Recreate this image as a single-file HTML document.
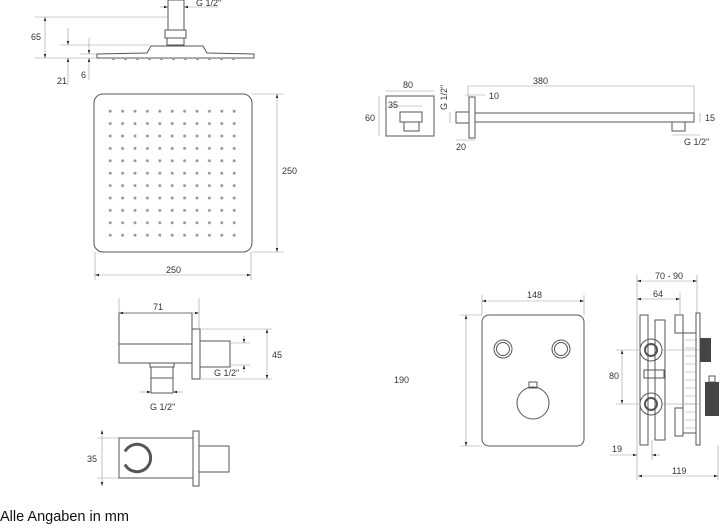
<!DOCTYPE html>
<html><head><meta charset="utf-8"><style>
html,body{margin:0;padding:0;background:#fff;}
svg{display:block;font-family:"Liberation Sans",sans-serif;}
text{font-size:9px;fill:#333;}
.l{stroke:#555;stroke-width:1;fill:none;}
.t{stroke:#999;stroke-width:.6;fill:none;}
</style></head><body>
<svg width="720" height="529" viewBox="0 0 720 529">
<defs>
<marker id="a" viewBox="0 0 10 10" refX="10" refY="5" markerWidth="7" markerHeight="7" orient="auto-start-reverse"><path d="M0,2L10,5L0,8z" fill="#222"/></marker>
<pattern id="dots" x="104" y="105" width="12.4" height="12.4" patternUnits="userSpaceOnUse"><circle cx="6.2" cy="6.2" r="1.5" fill="#999"/></pattern>
</defs>
<!-- top showerhead side -->
<rect class="l" x="168" y="0" width="16" height="30"/>
<rect class="l" x="165" y="30" width="21" height="8"/>
<rect class="l" x="167" y="38" width="17" height="7"/>
<path class="l" d="M97,58 L97,54 L147,53 L151,46 L203,46 L207,53 L254,54 L254,58 Z"/>
<g fill="#999"><rect x="112" y="59" width="3" height="1"/><rect x="124" y="59" width="3" height="1"/><rect x="136" y="59" width="3" height="1"/><rect x="148" y="59" width="3" height="1"/><rect x="160" y="59" width="3" height="1"/><rect x="172" y="59" width="3" height="1"/><rect x="184" y="59" width="3" height="1"/><rect x="196" y="59" width="3" height="1"/><rect x="208" y="59" width="3" height="1"/><rect x="220" y="59" width="3" height="1"/><rect x="232" y="59" width="3" height="1"/></g>
<line class="t" x1="35" y1="17" x2="168" y2="17"/><line class="t" x1="60" y1="45" x2="150" y2="45"/><line class="t" x1="80" y1="54" x2="97" y2="54"/><line class="t" x1="35" y1="58" x2="97" y2="58"/>
<line class="t" x1="45" y1="17" x2="45" y2="58" marker-start="url(#a)" marker-end="url(#a)"/>
<line class="t" x1="68" y1="28" x2="68" y2="45" marker-end="url(#a)"/><line class="t" x1="68" y1="85" x2="68" y2="58" marker-end="url(#a)"/>
<line class="t" x1="89" y1="38" x2="89" y2="54" marker-end="url(#a)"/><line class="t" x1="89" y1="80" x2="89" y2="58" marker-end="url(#a)"/>
<line class="t" x1="160" y1="7" x2="168" y2="7" marker-end="url(#a)"/><line class="t" x1="218" y1="7" x2="184" y2="7" marker-end="url(#a)"/>
<text x="31" y="40">65</text><text x="57" y="84">21</text><text x="81" y="78">6</text><text x="196" y="6">G 1/2"</text>
<!-- square -->
<rect class="l" x="94" y="94" width="158" height="158" rx="9"/>
<rect x="104" y="105" width="138" height="138" fill="url(#dots)"/>
<line class="t" x1="252" y1="94" x2="284" y2="94"/><line class="t" x1="252" y1="252" x2="284" y2="252"/>
<line class="t" x1="277" y1="94" x2="277" y2="252" marker-start="url(#a)" marker-end="url(#a)"/>
<line class="t" x1="95" y1="252" x2="95" y2="280"/><line class="t" x1="251" y1="252" x2="251" y2="280"/>
<line class="t" x1="95" y1="275" x2="251" y2="275" marker-start="url(#a)" marker-end="url(#a)"/>
<text x="282" y="174">250</text><text x="166" y="273">250</text>
<!-- arm front -->
<rect class="l" x="386" y="96" width="48" height="40"/>
<rect class="l" x="400" y="112" width="22" height="10"/>
<rect class="l" x="404" y="122" width="15" height="9"/>
<line class="t" x1="386" y1="91" x2="434" y2="91"/><line class="t" x1="379" y1="96" x2="379" y2="136"/>
<line class="t" x1="389" y1="106" x2="422" y2="106"/>
<text x="403" y="88">80</text><text x="365" y="121">60</text><text x="388" y="108">35</text>
<!-- arm side -->
<rect class="l" x="456" y="112" width="13" height="11"/>
<rect class="l" x="469" y="97" width="6" height="41"/>
<rect class="l" x="475" y="113" width="219" height="9"/>
<rect class="l" x="672" y="122" width="13" height="9"/>
<line class="t" x1="468" y1="86" x2="694" y2="86"/><line class="t" x1="468" y1="86" x2="468" y2="97"/><line class="t" x1="694" y1="86" x2="694" y2="113"/>
<line class="t" x1="465" y1="95" x2="485" y2="95"/>
<line class="t" x1="450" y1="112" x2="450" y2="123"/>
<line class="t" x1="456" y1="140" x2="475" y2="140"/>
<line class="t" x1="700" y1="113" x2="700" y2="122"/>
<line class="t" x1="672" y1="135" x2="700" y2="135"/>
<text x="533" y="84">380</text><text x="489" y="99">10</text><text x="705" y="121">15</text><text x="456" y="150">20</text><text x="684" y="145">G 1/2"</text>
<text x="0" y="0" transform="translate(447,110) rotate(-90)">G 1/2"</text>
<!-- wall outlet -->
<rect class="l" x="119" y="313" width="73" height="50"/>
<line class="l" x1="119" y1="344" x2="192" y2="344"/>
<rect class="l" x="192" y="329" width="8" height="50"/>
<rect class="l" x="200" y="341" width="30" height="26"/>
<rect class="l" x="150" y="363" width="24" height="4"/>
<rect class="l" x="151" y="367" width="22" height="26"/>
<line class="l" x1="151" y1="378" x2="173" y2="378"/>
<line class="t" x1="119" y1="298" x2="119" y2="313"/><line class="t" x1="199" y1="298" x2="199" y2="329"/>
<line class="t" x1="119" y1="313" x2="199" y2="313" marker-start="url(#a)" marker-end="url(#a)"/>
<line class="t" x1="200" y1="329" x2="272" y2="329"/><line class="t" x1="200" y1="379" x2="272" y2="379"/>
<line class="t" x1="267" y1="329" x2="267" y2="379" marker-start="url(#a)" marker-end="url(#a)"/>
<line class="t" x1="230" y1="343" x2="250" y2="343"/><line class="t" x1="230" y1="365" x2="250" y2="365"/>
<line class="t" x1="244" y1="336" x2="244" y2="343" marker-end="url(#a)"/><line class="t" x1="244" y1="372" x2="244" y2="365" marker-end="url(#a)"/>
<line class="t" x1="140" y1="392" x2="151" y2="392" marker-end="url(#a)"/><line class="t" x1="183" y1="392" x2="173" y2="392" marker-end="url(#a)"/>
<text x="153" y="310">71</text><text x="272" y="358">45</text><text x="214" y="376">G 1/2"</text><text x="150" y="410">G 1/2"</text>
<!-- holder -->
<rect class="l" x="119" y="438" width="74" height="40"/>
<rect class="l" x="193" y="431" width="6" height="55"/>
<rect class="l" x="199" y="446" width="30" height="26"/>
<path d="M125,451.5 A13.6,13.6 0 0 1 150.6,458 A13.6,13.6 0 0 1 125,464.5" fill="none" stroke="#555" stroke-width="3"/>
<line class="t" x1="97" y1="438" x2="119" y2="438"/><line class="t" x1="97" y1="478" x2="119" y2="478"/>
<line class="t" x1="102" y1="430" x2="102" y2="486" marker-start="url(#a)" marker-end="url(#a)"/>
<text x="87" y="462">35</text>
<!-- thermostat panel -->
<rect class="l" x="482" y="315" width="102" height="131" rx="7"/>
<circle class="l" cx="503" cy="349" r="9"/><circle class="l" cx="503" cy="349" r="6.5"/>
<circle class="l" cx="561" cy="349" r="9"/><circle class="l" cx="561" cy="349" r="6.5"/>
<rect class="l" x="529" y="382" width="8" height="6"/>
<circle class="l" cx="533" cy="403" r="16"/>
<line class="t" x1="482" y1="295" x2="482" y2="315"/><line class="t" x1="584" y1="295" x2="584" y2="315"/>
<line class="t" x1="482" y1="301" x2="584" y2="301" marker-start="url(#a)" marker-end="url(#a)"/>
<line class="t" x1="460" y1="315" x2="482" y2="315"/><line class="t" x1="460" y1="446" x2="482" y2="446"/>
<line class="t" x1="466" y1="315" x2="466" y2="446" marker-start="url(#a)" marker-end="url(#a)"/>
<text x="527" y="298">148</text><text x="394" y="383">190</text>
<!-- valve side -->
<g class="l">
<rect x="640" y="315" width="8" height="130"/>
<rect x="655" y="320" width="10" height="120"/>
<circle cx="651" cy="350" r="11"/><circle cx="651" cy="350" r="6" stroke-width="2"/>
<circle cx="651" cy="404" r="11"/><circle cx="651" cy="404" r="6" stroke-width="2"/>
<rect x="675" y="315" width="8" height="18"/><rect x="675" y="408" width="8" height="28"/>
<rect x="683" y="333" width="13" height="100"/>
<rect x="696" y="313" width="4" height="132"/>
<rect x="644" y="370" width="20" height="8"/>
</g>
<g stroke="#999" stroke-width=".5"><line x1="685" y1="340" x2="696" y2="340"/><line x1="685" y1="348" x2="696" y2="348"/><line x1="685" y1="356" x2="696" y2="356"/><line x1="685" y1="364" x2="696" y2="364"/><line x1="685" y1="372" x2="696" y2="372"/><line x1="685" y1="380" x2="696" y2="380"/><line x1="685" y1="388" x2="696" y2="388"/><line x1="685" y1="396" x2="696" y2="396"/><line x1="685" y1="404" x2="696" y2="404"/><line x1="685" y1="412" x2="696" y2="412"/><line x1="685" y1="420" x2="696" y2="420"/><line x1="685" y1="428" x2="696" y2="428"/></g>
<rect x="700" y="338" width="11" height="24" fill="#444"/>
<rect x="705" y="382" width="14" height="34" fill="#444"/>
<rect class="l" x="709" y="376" width="6" height="6"/>
<line class="t" x1="662" y1="350" x2="700" y2="350"/><line class="t" x1="662" y1="404" x2="700" y2="404"/>
<line class="t" x1="637" y1="275" x2="637" y2="480"/><line class="t" x1="697" y1="275" x2="697" y2="313"/><line class="t" x1="680" y1="293" x2="680" y2="315"/><line class="t" x1="718" y1="445" x2="718" y2="480"/>
<line class="t" x1="637" y1="281" x2="697" y2="281" marker-start="url(#a)" marker-end="url(#a)"/>
<line class="t" x1="637" y1="299" x2="680" y2="299" marker-start="url(#a)" marker-end="url(#a)"/>
<line class="t" x1="616" y1="350" x2="640" y2="350"/><line class="t" x1="616" y1="404" x2="640" y2="404"/>
<line class="t" x1="622" y1="350" x2="622" y2="404" marker-start="url(#a)" marker-end="url(#a)"/>
<line class="t" x1="610" y1="455" x2="637" y2="455" marker-end="url(#a)"/><line class="t" x1="660" y1="455" x2="652" y2="455" marker-end="url(#a)"/>
<line class="t" x1="652" y1="440" x2="652" y2="460"/>
<line class="t" x1="638" y1="476" x2="718" y2="476" marker-start="url(#a)" marker-end="url(#a)"/>
<text x="655" y="279">70 - 90</text><text x="653" y="297">64</text><text x="609" y="379">80</text><text x="612" y="452">19</text><text x="672" y="474">119</text>
<text x="0" y="521" style="font-size:14.5px;fill:#111;font-weight:500">Alle Angaben in mm</text>
</svg>
</body></html>
